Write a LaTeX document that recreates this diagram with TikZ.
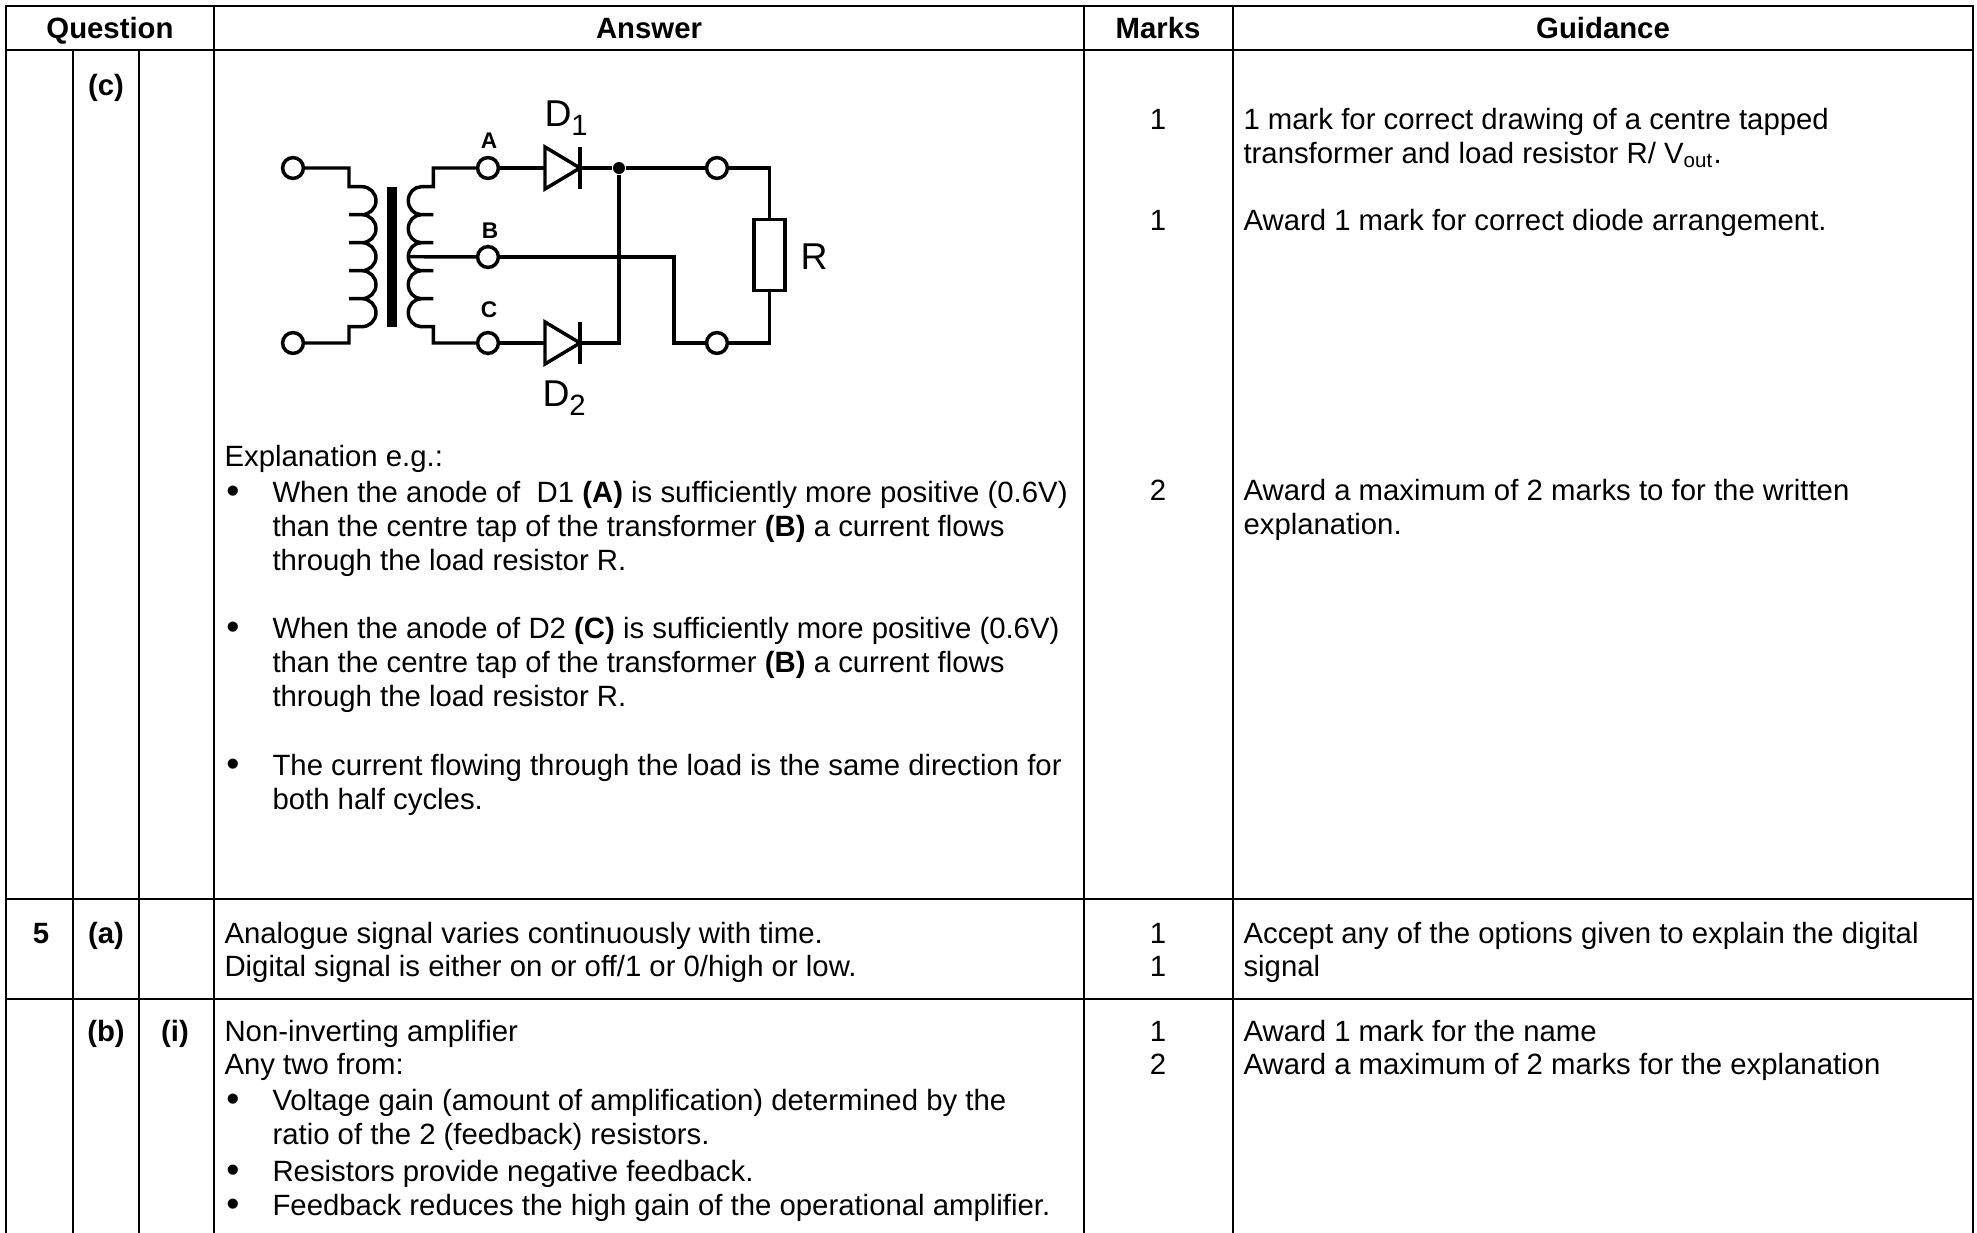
\documentclass[tikz,border=0pt]{standalone}
\usepackage{fontspec}
\setmainfont{Liberation Sans}
\begin{document}
\begin{tikzpicture}[x=0.375pt,y=-0.375pt] % 1 единица = 1 пиксель
\tikzstyle{mygrid} = [line width=0.8pt] % линии таблицы
\tikzstyle{mytxt} = [inner sep=0pt, anchor=base west, font=\fontsize{11}{13}\selectfont] % обычный текст
\tikzstyle{mybold} = [mytxt, font=\fontsize{11}{13}\selectfont\bfseries] % жирный текст
\tikzstyle{mymark} = [mytxt, anchor=base] % баллы по центру
\tikzstyle{mybul} = [inner sep=0pt, anchor=base, font=\fontsize{14}{15}\selectfont] % маркер списка
\tikzstyle{mywire} = [line width=1.3pt] % провода схемы
\tikzstyle{myterm} = [circle, draw, line width=1.3pt, fill=white, minimum size=7.8pt, inner sep=0pt] % клемма
\tikzstyle{myjunc} = [circle, fill, minimum size=4.5pt, inner sep=0pt] % узел соединения
\tikzstyle{mylbl} = [inner sep=0pt, font=\fontsize{8.5}{9}\selectfont\bfseries] % метки A, B, C
\tikzstyle{mybig} = [inner sep=0pt, anchor=base west, font=\fontsize{14}{15}\selectfont] % D1, D2, R
\useasboundingbox (0,0) rectangle (1977,1233);
% таблица
\draw[mygrid] (6,1233) -- (6,6) -- (1973,6) -- (1973,1233);
\foreach \y in {50,899,999} \draw[mygrid] (6,\y) -- (1973,\y);
\foreach \x in {214,1084,1233} \draw[mygrid] (\x,6) -- (\x,1233);
\foreach \x in {73,139} \draw[mygrid] (\x,50) -- (\x,1233);
% заголовок
\node[mybold, anchor=base] (hq) at (110,38) {Question};
\node[mybold, anchor=base] (ha) at (649,38) {Answer};
\node[mybold, anchor=base] (hm) at (1158,38) {Marks};
\node[mybold, anchor=base] (hg) at (1603,38) {Guidance};
% строка (c)
\node[mybold, anchor=base] (qc) at (106,95) {(c)};
\node[mymark] (mc1) at (1158,129) {1};
\node[mymark] (mc2) at (1158,230) {1};
\node[mymark] (mc3) at (1158,500) {2};
\node[mytxt] (gc1) at (1243,129) {1 mark for correct drawing of a centre tapped};
\node[mytxt] (gc2) at (1243,163) {transformer and load resistor R/ V\textsubscript{out}.};
\node[mytxt] (gc3) at (1243,230) {Award 1 mark for correct diode arrangement.};
\node[mytxt] (gc4) at (1243,500) {Award a maximum of 2 marks to for the written};
\node[mytxt] (gc5) at (1243,534) {explanation.};
% схема: клеммы
\node[myterm] (p1) at (293,168) {};
\node[myterm] (p2) at (293,343) {};
\node[myterm] (tA) at (488,168) {};
\node[myterm] (tB) at (488,257) {};
\node[myterm] (tC) at (488,343) {};
\node[myterm] (o1) at (717,168) {};
\node[myterm] (o2) at (717,343) {};
\node[myjunc] (j1) at (619,168) {};
\node[draw, line width=1.3pt, minimum width=11.6pt, minimum height=26.8pt, inner sep=0pt] (R) at (769.5,255) {};
\node[mylbl] (lA) at (489,141) {A};
\node[mylbl] (lB) at (490,231) {B};
\node[mylbl] (lC) at (489,310) {C};
\node[mybig] (lD1) at (544,126) {D\raisebox{-3.5pt}{\fontsize{11}{12}\selectfont 1}};
\node[mybig] (lD2) at (542,406) {D\raisebox{-3.5pt}{\fontsize{11}{12}\selectfont 2}};
\node[mybig] (lR) at (800,269) {R};
\coordinate (pt) at (349,186.7); % начало первичной обмотки
\coordinate (st) at (433.3,186.7); % начало вторичной обмотки
\coordinate (tap) at (408.3,256.7); % средняя точка
\coordinate (bb) at (674,257);
\coordinate (d1a) at (545,168); \coordinate (d1k) at (580,168);
\coordinate (d2a) at (545,343); \coordinate (d2k) at (580,343);
% обмотки и сердечник
\draw[mywire] (p1) -| (pt) \foreach \i in {1,...,5} {-- ++(13,0) arc[start angle=-90, end angle=90, x radius=14, y radius=14] -- ++(-13,0)} |- (p2);
\draw[mywire] (tA) -| (st) \foreach \i in {1,...,5} {-- ++(-12,0) arc[start angle=270, end angle=90, x radius=13, y radius=14] -- ++(12,0)} |- (tC);
\fill (386.7,186.7) rectangle (396.5,327);
\draw[mywire] (tap) -- (tB);
% диоды
\draw[mywire] (d1a) ++(0,-21) -- ++(0,42) -- (d1k) -- cycle;
\draw[mywire] (d1k) ++(0,-21) -- ++(0,42);
\draw[mywire] (d2a) ++(0,-21) -- ++(0,42) -- (d2k) -- cycle;
\draw[mywire] (d2k) ++(0,-21) -- ++(0,42);
% соединения
\draw[mywire] (tA) -- (d1a);
\draw[mywire] (tC) -- (d2a);
\draw[mywire] (d1k) -- (j1) -- (o1);
\draw[mywire] (j1) |- (d2k);
\draw[mywire] (o1) -| (R.north);
\draw[mywire] (R.south) |- (o2);
\draw[mywire] (tB) -- (bb) |- (o2);
% пояснение
\node[mytxt] (e0) at (224,466) {Explanation e.g.:};
\node[mybul] (b1) at (233,503) {\textbullet};
\node[mytxt] (e1) at (272,502) {When the anode of~ D1 \textbf{(A)} is sufficiently more positive (0.6V)};
\node[mytxt] (e2) at (272,536) {than the centre tap of the transformer \textbf{(B)} a current flows};
\node[mytxt] (e3) at (272,570) {through the load resistor R.};
\node[mybul] (b2) at (233,639) {\textbullet};
\node[mytxt] (e4) at (272,638) {When the anode of D2 \textbf{(C)} is sufficiently more positive (0.6V)};
\node[mytxt] (e5) at (272,672) {than the centre tap of the transformer \textbf{(B)} a current flows};
\node[mytxt] (e6) at (272,706) {through the load resistor R.};
\node[mybul] (b3) at (233,776) {\textbullet};
\node[mytxt] (e7) at (272,775) {The current flowing through the load is the same direction for};
\node[mytxt] (e8) at (272,809) {both half cycles.};
% строка 5 (a)
\node[mybold, anchor=base] (q5) at (41,943) {5};
\node[mybold, anchor=base] (qa) at (106,943) {(a)};
\node[mytxt] (a1) at (224,943) {Analogue signal varies continuously with time.};
\node[mytxt] (a2) at (224,976) {Digital signal is either on or off/1 or 0/high or low.};
\node[mymark] (ma1) at (1158,943) {1};
\node[mymark] (ma2) at (1158,976) {1};
\node[mytxt] (ga1) at (1243,943) {Accept any of the options given to explain the digital};
\node[mytxt] (ga2) at (1243,976) {signal};
% строка (b)(i)
\node[mybold, anchor=base] (qb) at (106,1041) {(b)};
\node[mybold, anchor=base] (qi) at (175,1041) {(i)};
\node[mytxt] (c1) at (224,1041) {Non-inverting amplifier};
\node[mytxt] (c2) at (224,1074) {Any two from:};
\node[mybul] (b4) at (233,1111) {\textbullet};
\node[mytxt] (c3) at (272,1110) {Voltage gain (amount of amplification) determined by the};
\node[mytxt] (c4) at (272,1144) {ratio of the 2 (feedback) resistors.};
\node[mybul] (b5) at (233,1182) {\textbullet};
\node[mytxt] (c5) at (272,1181) {Resistors provide negative feedback.};
\node[mybul] (b6) at (233,1216) {\textbullet};
\node[mytxt] (c6) at (272,1215) {Feedback reduces the high gain of the operational amplifier.};
\node[mymark] (mb1) at (1158,1041) {1};
\node[mymark] (mb2) at (1158,1074) {2};
\node[mytxt] (gb1) at (1243,1041) {Award 1 mark for the name};
\node[mytxt] (gb2) at (1243,1074) {Award a maximum of 2 marks for the explanation};
\end{tikzpicture}
\end{document}
